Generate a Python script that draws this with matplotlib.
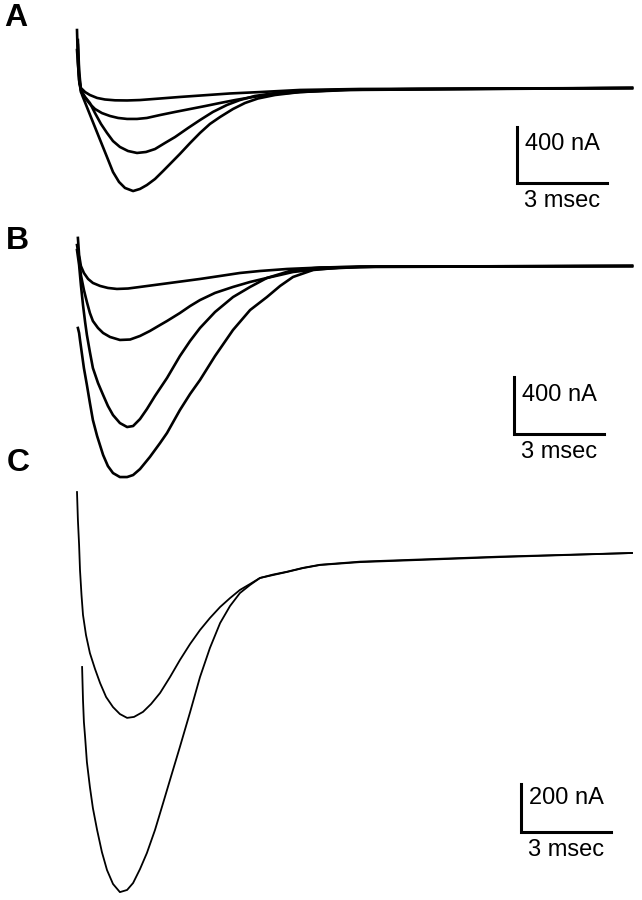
import numpy as np
import matplotlib
matplotlib.use("Agg")
import matplotlib.pyplot as plt

plt.rcParams['font.family'] = ['Liberation Sans', 'DejaVu Sans']

# ---- traces: time (msec) and current (nA) ----
# panel A, four traces, smallest to largest
a_t1 = [0, 0.07, 0.13, 0.27, 0.43, 0.67, 0.93, 1.27, 1.67, 2.1, 2.77, 3.43, 4.1, 5.1, 6.1, 7.43, 9.43, 18.5]
a_i1 = [271, 57, 0, -29, -50, -71, -82, -88, -89, -86, -75, -64, -54, -39, -29, -14, -7, 0]
a_t2 = [0.03, 0.07, 0.13, 0.27, 0.43, 0.6, 0.83, 1.1, 1.37, 1.67, 2.0, 2.33, 2.77, 3.27, 3.77, 4.27,
        4.77, 5.27, 5.87, 6.6, 7.43, 9.1, 18.5]
a_i2 = [307, 93, -29, -71, -114, -150, -179, -200, -214, -221, -221, -214, -193, -171, -150, -129,
        -107, -86, -64, -43, -29, -14, 0]
a_t3 = [0.03, 0.07, 0.13, 0.27, 0.43, 0.6, 0.8, 1.0, 1.2, 1.43, 1.7, 2.0, 2.3, 2.6, 2.93, 3.27, 3.7,
        4.1, 4.53, 5.0, 5.43, 5.93, 6.6, 7.43, 9.1, 18.5]
a_i3 = [343, 129, -14, -64, -107, -179, -257, -321, -379, -421, -450, -464, -457, -436, -393, -350, -286,
        -229, -171, -121, -86, -57, -36, -21, -11, 0]
a_t4 = [0, 0.03, 0.08, 0.17, 0.33, 0.53, 0.77, 1.0, 1.2, 1.4, 1.6, 1.87, 2.1, 2.33, 2.6, 2.87, 3.1,
        3.43, 3.77, 4.1, 4.43, 4.77, 5.2, 5.6, 6.03, 6.6, 7.43, 8.77, 11.43, 18.5]
a_i4 = [414, 186, 29, -50, -136, -243, -371, -493, -600, -671, -714, -736, -721, -693, -650, -593, -543,
        -471, -393, -321, -257, -207, -150, -107, -75, -50, -29, -14, -7, 0]

# panel B, four traces
b_t1 = [0.03, 0.07, 0.13, 0.23, 0.37, 0.53, 0.77, 1.03, 1.33, 1.7, 2.1, 2.6, 3.1, 3.6, 4.1, 4.77, 5.43,
        6.1, 7.0, 8.1, 10.1, 18.5]
b_i1 = [197, 77, 0, -49, -91, -119, -140, -154, -161, -158, -147, -133, -119, -105, -91, -70, -49,
        -35, -21, -11, -4, 0]
b_t2 = [0, 0.07, 0.13, 0.23, 0.33, 0.43, 0.53, 0.7, 0.87, 1.1, 1.43, 1.77, 2.1, 2.43, 2.77, 3.0, 3.43,
        3.77, 4.1, 4.6, 5.2, 5.77, 6.33, 6.77, 7.2, 8.1, 9.43, 18.5]
b_i2 = [147, 56, -63, -168, -253, -330, -386, -435, -470, -498, -519, -516, -491, -456, -414, -386, -330,
        -281, -239, -189, -147, -112, -84, -63, -42, -21, -7, 0]
b_t3 = [0, 0.07, 0.13, 0.2, 0.27, 0.33, 0.43, 0.53, 0.7, 0.87, 1.03, 1.2, 1.43, 1.67, 1.87, 2.1, 2.33,
        2.6, 3.0, 3.43, 3.77, 4.1, 4.6, 5.2, 5.77, 6.33, 6.77, 7.2, 8.1, 9.43, 18.5]
b_i3 = [112, 7, -133, -274, -393, -484, -604, -716, -821, -905, -982, -1046, -1102, -1130, -1123, -1074, -1004,
        -912, -786, -632, -526, -435, -323, -218, -147, -84, -56, -28, -11, -4, 0]
b_t4 = [0.03, 0.07, 0.1, 0.17, 0.23, 0.33, 0.43, 0.53, 0.67, 0.87, 1.03, 1.2, 1.43, 1.67, 1.87, 2.1, 2.43,
        2.77, 3.0, 3.43, 3.77, 4.1, 4.6, 5.2, 5.77, 6.33, 6.77, 7.2, 7.87, 8.77, 10.1, 18.5]
b_i4 = [-435, -470, -519, -625, -716, -835, -961, -1081, -1193, -1326, -1404, -1453, -1481, -1481, -1467, -1425, -1340,
        -1242, -1172, -1011, -898, -800, -632, -449, -309, -218, -140, -77, -28, -11, -4, 0]

# panel C, two traces
c_t1 = [0, 0.03, 0.07, 0.1, 0.15, 0.2, 0.3, 0.43, 0.6, 0.77, 0.97, 1.2, 1.43, 1.67, 1.9, 2.2, 2.47,
        2.77, 3.1, 3.43, 3.77, 4.1, 4.43, 4.77, 5.1, 5.43, 5.77, 6.1, 6.53, 7.0, 7.53, 8.1, 9.43,
        11.43, 14.1, 18.5]
c_i1 = [254, 138, 33, -71, -175, -258, -342, -417, -483, -542, -600, -642, -671, -687, -683, -662, -629,
        -583, -517, -446, -379, -321, -271, -225, -188, -154, -129, -104, -92, -79, -63, -50, -38,
        -29, -17, 0]
c_t2 = [0.17, 0.2, 0.23, 0.27, 0.33, 0.43, 0.53, 0.67, 0.83, 1.0, 1.2, 1.43, 1.67, 1.87, 2.1, 2.33, 2.6,
        2.87, 3.13, 3.43, 3.77, 4.1, 4.43, 4.77, 5.1, 5.43, 5.77, 6.1, 6.53, 7.0, 7.53, 8.1, 9.43,
        11.43, 14.1, 18.5]
c_i2 = [-475, -613, -704, -767, -871, -975, -1063, -1154, -1246, -1321, -1379, -1413, -1404, -1375, -1317, -1250, -1154,
        -1042, -933, -808, -663, -517, -396, -292, -221, -167, -133, -104, -90, -78, -62, -49, -36,
        -27, -15, 0]

# scale bars: (msec, nA)
bar_ms = 3
bar_na = [400, 400, 200]

W, H = 642, 900
fig = plt.figure(figsize=(W / 100, H / 100), dpi=100)

X0 = 77.0     # pixel x of t = 0
PXMS = 30.0   # pixels per msec


def panel(top, bottom, y0, k):
    # axes over pixel rows top..bottom, baseline at pixel row y0, k px per nA
    ax = fig.add_axes([0, 1 - bottom / H, 1, (bottom - top) / H])
    ax.set_xlim(-X0 / PXMS, (W - X0) / PXMS)
    ax.set_ylim((y0 - bottom) / k, (y0 - top) / k)
    ax.axis('off')
    return ax


def scalebar(ax, xpix, ypix, y0, k, na, frac):
    t = (xpix - X0) / PXMS
    i = (y0 - ypix) / k
    ax.plot([t, t, t + bar_ms], [i + na, i, i], color='black', lw=2.2,
            solid_joinstyle='miter', clip_on=False)
    ax.text(t + 0.25, i + na * frac, f'{na} nA', fontsize=17, va='center', ha='left')
    ax.text(t + 1.5, i - 18 / k, f'{bar_ms} msec', fontsize=17, va='center', ha='center')


lw = 1.9

# ---- A ----
axA = panel(0, 215, 88, 0.14)
for t, i in [(a_t1, a_i1), (a_t2, a_i2), (a_t3, a_i3), (a_t4, a_i4)]:
    axA.plot(t, i, color='black', lw=lw, clip_on=False, solid_joinstyle='round')
scalebar(axA, 517, 183, 88, 0.14, bar_na[0], 0.7)

# ---- B ----
axB = panel(215, 470, 266, 0.1425)
for t, i in [(b_t1, b_i1), (b_t2, b_i2), (b_t3, b_i3), (b_t4, b_i4)]:
    axB.plot(t, i, color='black', lw=lw, clip_on=False, solid_joinstyle='round')
scalebar(axB, 514, 434, 266, 0.1425, bar_na[1], 0.69)

# ---- C ----
axC = panel(470, 900, 553, 0.24)
for t, i in [(c_t1, c_i1), (c_t2, c_i2)]:
    axC.plot(t, i, color='black', lw=1.3, clip_on=False, solid_joinstyle='round')
scalebar(axC, 521, 832, 553, 0.24, bar_na[2], 0.71)

# panel letters
for lab, (px, py) in zip(['A', 'B', 'C'], [(16, 18), (17, 241), (18, 463)]):
    fig.text(px / W, 1 - py / H, lab, fontsize=23, fontweight='bold',
             ha='center', va='center')

fig.savefig('out.png', dpi=100, facecolor='white')
